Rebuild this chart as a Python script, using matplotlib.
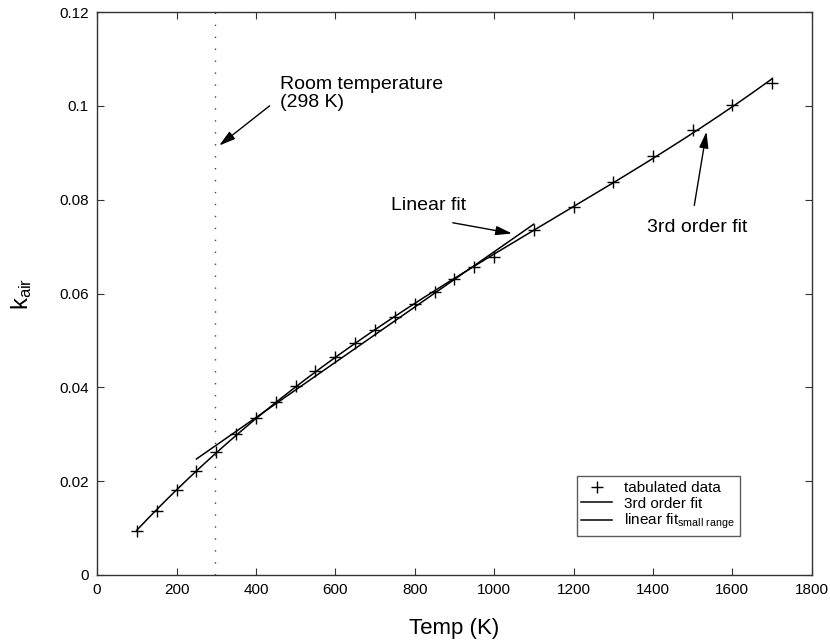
import matplotlib
matplotlib.use("Agg")
import matplotlib.pyplot as plt
import numpy as np

plt.rcParams['font.family'] = ['Liberation Sans', 'DejaVu Sans']

# tabulated thermal conductivity of air
temp = [100, 150, 200, 250, 300, 350, 400, 450, 500, 550, 600, 650, 700, 750,
        800, 850, 900, 950, 1000, 1100, 1200, 1300, 1400, 1500, 1600, 1700]
k_air = [0.0093, 0.0137, 0.0180, 0.0222, 0.0262, 0.0300, 0.0335, 0.0369, 0.0403,
         0.0435, 0.0465, 0.0494, 0.0522, 0.0551, 0.0578, 0.0603, 0.0631, 0.0656,
         0.0678, 0.0735, 0.0784, 0.0838, 0.0893, 0.0948, 0.1002, 0.1050]

room_temp = 298
# linear fit over the small range
lin_temp = [250, 1100]
lin_k = [0.0247, 0.0748]

T = np.array(temp)
k = np.array(k_air)

p3 = np.polyfit(T, k, 3)
tt = np.linspace(T.min(), T.max(), 300)

fig = plt.figure(figsize=(8.3, 6.43), dpi=100)
ax = fig.add_axes([0.117, 0.106, 0.861, 0.875])

ax.plot(T, k, '+', color='k', markersize=9, markeredgewidth=1.0, label='tabulated data')
ax.plot(tt, np.polyval(p3, tt), '-', color='k', lw=1.1, label='3rd order fit')
ax.plot(lin_temp, lin_k, '-', color='k', lw=1.1,
        label=r'linear fit$\mathregular{_{small\ range}}$')
ax.axvline(room_temp, color='#444444', ls=(0, (1, 7.6)), lw=1.0)

ax.set_xlim(0, 1800)
ax.set_ylim(0, 0.12)
ax.set_xticks(np.arange(0, 1801, 200))
ax.set_yticks(np.arange(0, 0.121, 0.02))
ax.set_yticklabels(['0', '0.02', '0.04', '0.06', '0.08', '0.1', '0.12'])
ax.tick_params(direction='in', top=True, right=True, length=5, labelsize=11,
               color='#333333', pad=6)
for s in ax.spines.values():
    s.set_color('#333333')
    s.set_linewidth(1.0)

ax.set_xlabel('Temp (K)', fontsize=16, labelpad=15)
ax.set_ylabel(r'$\mathregular{k_{air}}$', fontsize=17, labelpad=18)

arr = dict(arrowstyle='-|>,head_length=0.7,head_width=0.2', color='k', lw=1.0,
           mutation_scale=14)
ax.annotate('', xy=(302, 0.0912), xytext=(440, 0.1004), arrowprops=arr)
ax.text(461, 0.1027, 'Room temperature\n(298 K)', fontsize=14, va='center',
        ha='left', linespacing=1.1)
ax.annotate('', xy=(1052, 0.0727), xytext=(889, 0.0752), arrowprops=arr)
ax.text(740, 0.0788, 'Linear fit', fontsize=14, va='center', ha='left')
ax.annotate('', xy=(1536, 0.0951), xytext=(1503, 0.0782), arrowprops=arr)
ax.text(1385, 0.0740, '3rd order fit', fontsize=14, va='center', ha='left')

leg = ax.legend(loc='lower right', bbox_to_anchor=(0.899, 0.069), fontsize=11,
                frameon=True, fancybox=False, edgecolor='#333333',
                handlelength=2.0, labelspacing=0.1, borderpad=0.3,
                handletextpad=0.8, borderaxespad=0)
leg.get_frame().set_linewidth(1.0)

fig.savefig('out.png', dpi=100)
